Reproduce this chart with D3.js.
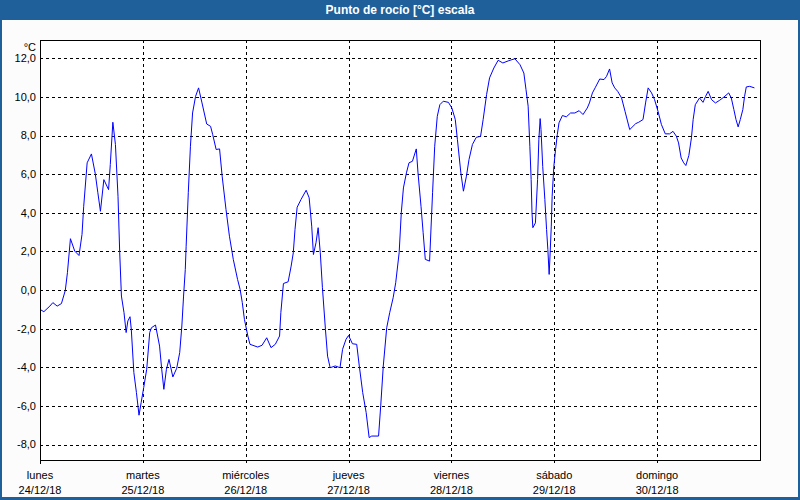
<!DOCTYPE html>
<html>
<head>
<meta charset="utf-8">
<script src="https://cdn.jsdelivr.net/npm/d3@7"></script>
<style>
  body { margin: 0; background: #fff; }
  text { font-family: "Liberation Sans", Arial, sans-serif; }
</style>
</head>
<body>
<div id="chart"></div>
<script>
// hours since lunes 24/12/18 00:00
const hours = [0, 0.9, 2.3, 3.0, 4.0, 5.0, 5.9, 6.4, 7.1, 8.1, 9.1, 9.8, 10.2, 11.0, 12.0, 12.9, 13.5, 14.1, 14.9, 16.0,
    16.4, 17.0, 17.6, 18.2, 18.6, 19.0, 19.6, 20.1, 20.5, 21.0, 21.3, 21.9, 22.5, 23.1, 23.6, 24.2, 24.9, 25.6, 26.0, 26.95,
    27.9, 28.4, 28.9, 29.5, 30.1, 31.0, 31.9, 32.6, 33.1, 33.5, 33.9, 34.1, 34.6, 35.1, 35.6, 36.3, 37.0, 37.8, 38.9, 39.8,
    40.3, 41.1, 41.9, 42.5, 43.4, 44.2, 45.1, 46.1, 46.7, 47.2, 47.7, 48.5, 49.0, 50.8, 51.8, 52.9, 53.9, 54.9, 55.9, 56.2,
    56.8, 57.9, 58.6, 59.1, 59.5, 60.0, 60.9, 62.1, 62.8, 63.4, 63.8, 64.4, 64.9, 65.4, 65.9, 66.6, 67.1, 67.7, 68.9, 70.0,
    70.6, 71.4, 72.0, 72.9, 73.9, 74.5, 75.3, 76.1, 76.8, 77.4, 79.0, 79.5, 80.1, 80.9, 81.6, 82.4, 83.0, 83.8, 84.3, 84.8,
    85.5, 86.1, 86.9, 87.8, 88.2, 88.9, 89.4, 89.9, 90.9, 91.6, 92.1, 92.7, 93.3, 94.1, 95.3, 96.1, 96.9, 97.4, 98.2, 98.8,
    99.5, 100.1, 100.9, 101.8, 102.8, 103.4, 104.2, 104.9, 105.9, 106.9, 108.0, 109.4, 110.8, 112.0, 112.9, 113.4, 113.9, 114.3, 114.6, 114.8,
    115.0, 115.6, 116.1, 116.4, 116.7, 116.9, 117.3, 117.8, 118.2, 118.5, 118.8, 119.0, 119.3, 119.5, 119.9, 120.3, 120.7, 121.1, 121.9, 122.8,
    123.8, 124.8, 125.8, 126.7, 127.7, 128.2, 128.9, 129.6, 130.6, 131.6, 132.2, 132.9, 133.5, 134.1, 134.8, 135.7, 136.5, 137.6, 139.0, 139.7,
    140.7, 141.3, 141.9, 142.7, 143.4, 144.2, 145.0, 145.9, 146.9, 147.7, 148.5, 149.0, 149.6, 150.2, 150.7, 151.4, 152.0, 152.4, 152.9, 153.9,
    154.7, 155.3, 155.9, 156.7, 157.6, 158.6, 159.6, 160.7, 161.3, 161.9, 162.4, 162.9, 163.4, 164.0, 164.4, 164.8, 165.6, 166.7];

const dewPoint = [-1.0, -1.12, -0.83, -0.65, -0.83, -0.7, -0.02, 0.9, 2.66, 2.02, 1.79, 2.88, 4.34, 6.59, 7.05, 6.02, 5.04, 4.08, 5.72, 5.2,
    6.5, 8.69, 7.54, 4.86, 1.93, -0.31, -1.17, -2.2, -1.6, -1.38, -2.03, -4.27, -5.31, -6.48, -5.83, -5.05, -4.1, -2.2, -1.95, -1.81,
    -2.9, -4.1, -5.14, -4.1, -3.59, -4.5, -4.05, -3.24, -1.86, -0.31, 1.07, 2.27, 5.04, 7.45, 9.17, 10.03, 10.47, 9.69, 8.6, 8.48,
    8.05, 7.28, 7.31, 5.9, 4.17, 2.79, 1.59, 0.55, 0.03, -0.65, -1.52, -2.38, -2.81, -2.95, -2.86, -2.47, -2.98, -2.81, -2.38, -1.17,
    0.34, 0.43, 1.24, 1.93, 3.14, 4.29, 4.69, 5.17, 4.78, 3.31, 1.84, 2.45, 3.23, 1.93, 0.12, -2.03, -3.42, -4.02, -3.93, -4.02,
    -3.07, -2.55, -2.35, -2.78, -2.81, -3.93, -5.31, -6.34, -7.64, -7.56, -7.56, -6.0, -3.93, -1.95, -1.17, -0.4, 0.38, 1.93, 4.0, 5.29,
    6.07, 6.59, 6.67, 7.31, 6.07, 4.34, 2.97, 1.59, 1.5, 5.04, 7.45, 9.0, 9.6, 9.78, 9.72, 9.43, 8.83, 7.79, 6.07, 5.12,
    5.9, 6.76, 7.54, 7.91, 7.96, 8.83, 10.12, 10.99, 11.5, 11.9, 11.76, 11.88, 11.98, 11.67, 11.24, 10.38, 9.52, 7.45, 5.72, 4.0,
    3.23, 3.48, 5.72, 7.79, 8.88, 8.31, 6.41, 4.69, 3.14, 2.1, 0.81, 1.76, 3.31, 4.86, 6.41, 7.28, 8.05, 8.66, 9.04, 8.97,
    9.17, 9.17, 9.29, 9.09, 9.43, 9.69, 10.21, 10.5, 10.93, 10.9, 11.07, 11.45, 10.73, 10.47, 10.29, 9.95, 9.26, 8.31, 8.62, 8.69,
    8.83, 9.69, 10.47, 10.21, 9.86, 9.26, 8.57, 8.09, 8.09, 8.22, 7.96, 7.62, 6.84, 6.59, 6.45, 6.97, 7.88, 8.83, 9.6, 9.95,
    9.72, 10.03, 10.29, 9.86, 9.69, 9.83, 10.0, 10.21, 9.95, 9.35, 8.83, 8.45, 8.83, 9.35, 10.03, 10.52, 10.55, 10.47];

const dayNames = ["lunes", "martes", "miércoles", "jueves", "viernes", "sábado", "domingo"];
const dayDates = ["24/12/18", "25/12/18", "26/12/18", "27/12/18", "28/12/18", "29/12/18", "30/12/18"];
const yTicks = [-8, -6, -4, -2, 0, 2, 4, 6, 8, 10, 12];

const W = 800, H = 500;
const margin = { top: 40, right: 40, bottom: 40, left: 40 };
const width = W - margin.left - margin.right,   // 720
    height = H - margin.top - margin.bottom;    // 420

const data = hours.map((h, i) => ({ h: h, v: dewPoint[i] }));

const svg = d3.select("#chart")
    .append("svg")
    .attr("width", W)
    .attr("height", H);

// window frame
svg.append("rect").attr("width", W).attr("height", H).attr("fill", "#1f5f9a");
svg.append("rect")
    .attr("x", 2).attr("y", 20)
    .attr("width", W - 4).attr("height", H - 23)
    .attr("fill", "#fcfcfc");

svg.append("text")
    .attr("x", W / 2)
    .attr("y", 14)
    .attr("text-anchor", "middle")
    .style("font-size", "12px")
    .style("font-weight", "bold")
    .style("fill", "#fff")
    .text("Punto de rocío [°C] escala");

const g = svg.append("g")
    .attr("transform", `translate(${margin.left},${margin.top})`);

const xScale = d3.scaleLinear()
    .domain([0, 168])
    .range([0, width]);

const yScale = d3.scaleLinear()
    .domain([-8.8, 12.95])
    .range([height, 0]);

g.append("rect")
    .attr("width", width)
    .attr("height", height)
    .attr("fill", "#fff");

// horizontal grid
g.selectAll(".hgrid")
    .data(yTicks)
    .enter().append("line")
    .attr("class", "hgrid")
    .attr("x1", 0).attr("x2", width)
    .attr("y1", d => Math.round(yScale(d)) + 0.5)
    .attr("y2", d => Math.round(yScale(d)) + 0.5)
    .attr("stroke", "#000")
    .attr("stroke-dasharray", "3,3");

// vertical grid + ticks below the box
const dayTicks = d3.range(1, 7).map(i => i * 24);
g.selectAll(".vgrid")
    .data(dayTicks)
    .enter().append("line")
    .attr("class", "vgrid")
    .attr("x1", d => Math.round(xScale(d)) + 0.5)
    .attr("x2", d => Math.round(xScale(d)) + 0.5)
    .attr("y1", 0).attr("y2", height + 4)
    .attr("stroke", "#000")
    .attr("stroke-dasharray", "3,3");

g.append("line")
    .attr("x1", 0.5).attr("x2", 0.5)
    .attr("y1", height).attr("y2", height + 4)
    .attr("stroke", "#000");

// y labels
g.selectAll(".ylab")
    .data(yTicks)
    .enter().append("text")
    .attr("class", "ylab")
    .attr("x", -4)
    .attr("y", d => yScale(d))
    .attr("dy", "0.35em")
    .attr("text-anchor", "end")
    .style("font-size", "11px")
    .style("fill", "#000")
    .text(d => d.toFixed(1).replace(".", ","));

g.append("text")
    .attr("x", -4)
    .attr("y", 7)
    .attr("dy", "0.35em")
    .attr("text-anchor", "end")
    .style("font-size", "11px")
    .text("°C");

// x labels
const xLab = g.selectAll(".xlab")
    .data(dayNames)
    .enter().append("text")
    .attr("class", "xlab")
    .attr("text-anchor", "middle")
    .style("font-size", "11px")
    .style("fill", "#000");

xLab.append("tspan")
    .attr("x", (d, i) => xScale(i * 24))
    .attr("y", height + 19)
    .text(d => d);

xLab.append("tspan")
    .attr("x", (d, i) => xScale(i * 24))
    .attr("y", height + 34)
    .text((d, i) => dayDates[i]);

// the line
const line = d3.line()
    .x(d => xScale(d.h))
    .y(d => yScale(d.v));

g.append("path")
    .datum(data)
    .attr("fill", "none")
    .attr("stroke", "#0000ff")
    .attr("stroke-width", 1)
    .attr("d", line);

// box
g.append("rect")
    .attr("x", 0.5).attr("y", 0.5)
    .attr("width", width).attr("height", height)
    .attr("fill", "none")
    .attr("stroke", "#000");
</script>
</body>
</html>
